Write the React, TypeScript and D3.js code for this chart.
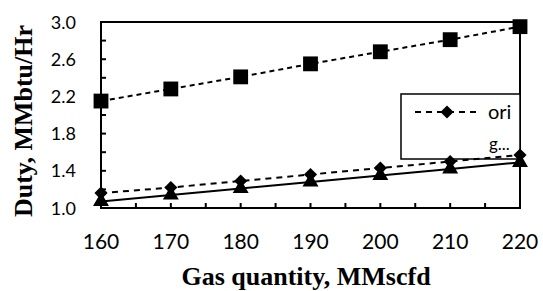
import React, { useRef, useEffect } from 'react';
import * as d3 from 'd3';

const gasQuantity = [160, 170, 180, 190, 200, 210, 220];
const squareSeries = [2.15, 2.28, 2.41, 2.55, 2.68, 2.81, 2.95];
const oriSeries = [1.16, 1.22, 1.29, 1.36, 1.43, 1.5, 1.57];
const triangleSeries = [1.07, 1.14, 1.21, 1.28, 1.35, 1.42, 1.49];
const yTickLabels = [1.0, 1.4, 1.8, 2.2, 2.6, 3.0];
const legendLabels = ['ori', 'g...'];

const W = 543;
const H = 291;
const margin = { left: 101, right: 23, top: 22, bottom: 83 };

const App: React.FC = () => {
    const ref = useRef<SVGSVGElement>(null);

    useEffect(() => {
        if (!ref.current) return;
        const svg = d3.select(ref.current);
        svg.selectAll('*').remove();

        const x = d3.scaleLinear().domain([160, 220]).range([margin.left, W - margin.right]);
        const y = d3.scaleLinear().domain([1.0, 3.0]).range([H - margin.bottom, margin.top]);

        svg.append('rect').attr('width', W).attr('height', H).attr('fill', '#fff');

        // frame
        svg.append('rect')
            .attr('x', x(160)).attr('y', y(3.0))
            .attr('width', x(220) - x(160)).attr('height', y(1.0) - y(3.0))
            .attr('fill', 'none').attr('stroke', '#000').attr('stroke-width', 2);

        // inward ticks
        const yTicks = d3.range(1.0, 3.01, 0.2);
        svg.selectAll('.ytick').data(yTicks).enter().append('line')
            .attr('x1', x(160)).attr('x2', x(160) + 5)
            .attr('y1', d => y(d)).attr('y2', d => y(d))
            .attr('stroke', '#000').attr('stroke-width', 2);
        const xTicks = d3.range(160, 221, 5);
        svg.selectAll('.xtick').data(xTicks).enter().append('line')
            .attr('x1', d => x(d)).attr('x2', d => x(d))
            .attr('y1', y(1.0)).attr('y2', y(1.0) - 5)
            .attr('stroke', '#000').attr('stroke-width', 2);

        svg.selectAll('.ylab').data(yTickLabels).enter().append('text')
            .attr('x', 76).attr('y', d => y(d) + 6.5)
            .attr('text-anchor', 'end')
            .style('font-family', 'Lato').style('font-size', '18px')
            .text(d => d.toFixed(1));
        svg.selectAll('.xlab').data(gasQuantity).enter().append('text')
            .attr('x', d => x(d)).attr('y', 249)
            .attr('text-anchor', 'middle')
            .style('font-family', 'Lato').style('font-size', '21px')
            .text(d => String(d));

        svg.append('text')
            .attr('x', 306).attr('y', 285).attr('text-anchor', 'middle')
            .style('font-family', 'Liberation Serif').style('font-weight', 'bold').style('font-size', '26px')
            .text('Gas quantity, MMscfd');
        svg.append('text')
            .attr('transform', 'translate(32,121) rotate(-90)').attr('text-anchor', 'middle')
            .style('font-family', 'Liberation Serif').style('font-weight', 'bold').style('font-size', '26px')
            .text('Duty, MMbtu/Hr');

        // legend
        const lg = svg.append('g');
        lg.append('rect').attr('x', 401).attr('y', 94).attr('width', x(220) - 401).attr('height', 65)
            .attr('fill', '#fff').attr('stroke', '#000').attr('stroke-width', 1.5);
        lg.append('line').attr('x1', 415).attr('x2', 477).attr('y1', 112).attr('y2', 112)
            .attr('stroke', '#000').attr('stroke-width', 2).attr('stroke-dasharray', '6,5');
        lg.append('path').attr('d', d3.symbol(d3.symbolDiamond2, 110)())
            .attr('transform', 'translate(447,112)').attr('fill', '#000');
        lg.append('text').attr('x', 488).attr('y', 119)
            .style('font-family', 'Lato').style('font-size', '20px').text(legendLabels[0]);
        lg.append('text').attr('x', 489).attr('y', 150)
            .style('font-family', 'Lato').style('font-size', '17px').text(legendLabels[1]);

        const line = d3.line<number>().x((_, i) => x(gasQuantity[i])).y(d => y(d));
        const drawSeries = (vals: number[], dash: string | null, sym: d3.SymbolType, size: number) => {
            svg.append('path').attr('d', line(vals)!).attr('fill', 'none')
                .attr('stroke', '#000').attr('stroke-width', 2)
                .attr('stroke-dasharray', dash);
            svg.append('g').selectAll('path').data(vals).enter().append('path')
                .attr('d', d3.symbol(sym, size)())
                .attr('transform', (d, i) => `translate(${x(gasQuantity[i])},${y(d)})`)
                .attr('fill', '#000');
        };
        drawSeries(triangleSeries, null, d3.symbolTriangle, 110);
        drawSeries(oriSeries, '6,5', d3.symbolDiamond2, 110);
        drawSeries(squareSeries, '5,4', d3.symbolSquare, 220);
    }, []);

    return <svg ref={ref} width={W} height={H} style={{ position: 'absolute', left: 0, top: 0 }}></svg>;
};

export default App;
